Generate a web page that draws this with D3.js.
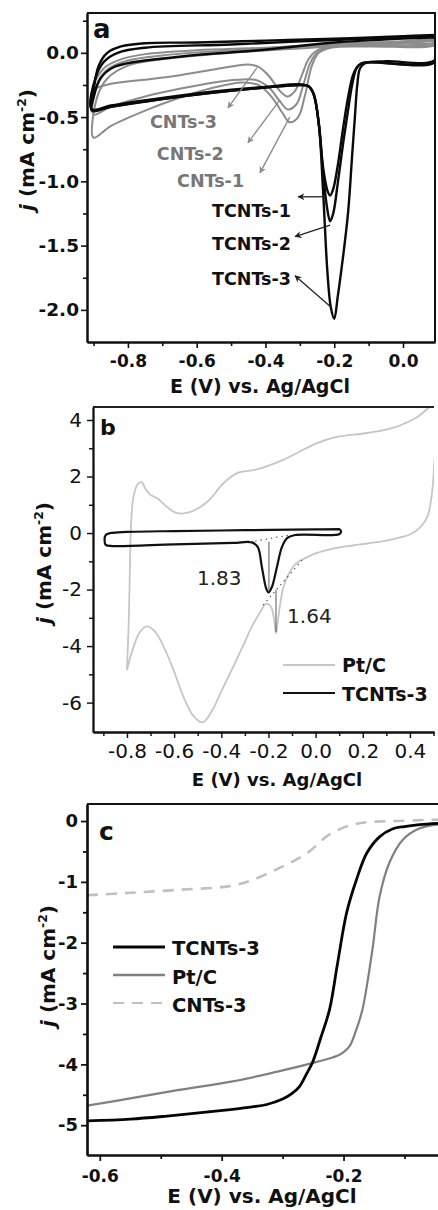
<!DOCTYPE html>
<html>
<head>
<meta charset="utf-8">
<script src="https://cdn.jsdelivr.net/npm/d3@7"></script>
<style>
  body { margin: 0; background: #fff; }
  svg { display: block; font-family: "DejaVu Sans", sans-serif; }
</style>
</head>
<body>
<svg id="fig" width="438" height="1210"></svg>
<script>
// ---------- panel a : CV of TCNTs / CNTs ----------
const aXTicks = [-0.8, -0.6, -0.4, -0.2, 0.0];
const aXMinor = [-0.9, -0.7, -0.5, -0.3, -0.1];
const aYTicks = [0.0, -0.5, -1.0, -1.5, -2.0];
const aYMinor = [0.25, -0.25, -0.75, -1.25, -1.75];

// each loop: upper branch right->left, then lower branch left->right
const tcnts3 = [[0.093,0.14],[0.0,0.13],[-0.2,0.11],[-0.4,0.095],[-0.6,0.08],[-0.75,0.075],[-0.82,0.05],[-0.86,0.0],[-0.885,-0.1],[-0.9,-0.3],[-0.905,-0.45],
  [-0.85,-0.42],[-0.7,-0.36],[-0.55,-0.31],[-0.4,-0.27],[-0.3,-0.25],[-0.275,-0.26],[-0.26,-0.32],[-0.245,-0.55],[-0.232,-1.1],[-0.22,-1.7],[-0.21,-1.98],[-0.2,-2.07],
  [-0.19,-1.9],[-0.175,-1.6],[-0.16,-1.25],[-0.148,-0.8],[-0.14,-0.5],[-0.133,-0.25],[-0.125,-0.12],[-0.11,-0.08],[-0.05,-0.065],[0.093,-0.055],[0.093,0.14]];
const tcnts2 = [[0.093,0.13],[-0.2,0.1],[-0.5,0.065],[-0.75,0.04],[-0.83,0.0],[-0.87,-0.07],[-0.895,-0.2],[-0.905,-0.44],
  [-0.85,-0.41],[-0.7,-0.35],[-0.55,-0.3],[-0.4,-0.265],[-0.3,-0.245],[-0.275,-0.26],[-0.26,-0.32],[-0.245,-0.55],[-0.232,-0.95],[-0.22,-1.22],[-0.212,-1.31],
  [-0.203,-1.25],[-0.19,-1.02],[-0.175,-0.72],[-0.16,-0.45],[-0.148,-0.25],[-0.135,-0.12],[-0.12,-0.08],[0.093,-0.07],[0.093,0.13]];
const tcnts1 = [[0.093,0.12],[-0.2,0.08],[-0.42,0.02],[-0.65,-0.03],[-0.84,-0.11],[-0.88,-0.2],[-0.9,-0.35],[-0.905,-0.44],
  [-0.85,-0.42],[-0.7,-0.36],[-0.55,-0.31],[-0.4,-0.27],[-0.3,-0.25],[-0.275,-0.26],[-0.26,-0.32],[-0.245,-0.55],[-0.232,-0.9],[-0.22,-1.07],[-0.212,-1.11],
  [-0.203,-1.06],[-0.19,-0.88],[-0.175,-0.6],[-0.16,-0.35],[-0.145,-0.17],[-0.13,-0.1],[-0.11,-0.075],[0.093,-0.065],[0.093,0.12]];
const cnts3 = [[0.093,0.11],[0.0,0.09],[-0.2,0.07],[-0.4,0.04],[-0.6,0.02],[-0.75,-0.01],[-0.82,-0.05],[-0.87,-0.12],[-0.9,-0.27],
  [-0.85,-0.24],[-0.69,-0.19],[-0.55,-0.13],[-0.45,-0.09],[-0.42,-0.11],[-0.39,-0.18],[-0.36,-0.29],[-0.337,-0.34],[-0.315,-0.3],[-0.295,-0.18],[-0.275,-0.05],
  [-0.255,0.01],[-0.23,0.04],[-0.15,0.06],[0.0,0.07],[0.093,0.08],[0.093,0.11]];
const cnts2 = [[0.093,0.1],[-0.2,0.06],[-0.5,0.02],[-0.7,-0.02],[-0.8,-0.06],[-0.86,-0.13],[-0.89,-0.25],[-0.9,-0.48],
  [-0.85,-0.42],[-0.75,-0.34],[-0.65,-0.28],[-0.55,-0.23],[-0.48,-0.21],[-0.43,-0.21],[-0.39,-0.27],[-0.36,-0.37],[-0.335,-0.44],[-0.31,-0.4],[-0.29,-0.25],
  [-0.27,-0.08],[-0.25,0.0],[-0.22,0.04],[-0.1,0.06],[0.093,0.07],[0.093,0.1]];
const cnts1 = [[0.093,0.09],[-0.2,0.05],[-0.5,0.0],[-0.7,-0.05],[-0.8,-0.1],[-0.86,-0.2],[-0.89,-0.35],[-0.9,-0.66],
  [-0.85,-0.57],[-0.75,-0.45],[-0.65,-0.35],[-0.55,-0.27],[-0.47,-0.23],[-0.42,-0.25],[-0.38,-0.35],[-0.35,-0.47],[-0.33,-0.54],[-0.305,-0.5],[-0.285,-0.33],
  [-0.265,-0.1],[-0.245,0.0],[-0.21,0.04],[-0.1,0.05],[0.093,0.06],[0.093,0.09]];

// annotations: label, text anchor point, arrow from -> to (data units)
const aLabels = [
  {name: 'CNTs-3', at: [-0.736, -0.584], from: [-0.425, -0.117], to: [-0.509, -0.428], anchor: 'start', color: '#777'},
  {name: 'CNTs-2', at: [-0.716, -0.833], from: [-0.358, -0.366], to: [-0.451, -0.70], anchor: 'start', color: '#777'},
  {name: 'CNTs-1', at: [-0.657, -1.043], from: [-0.329, -0.498], to: [-0.416, -0.934], anchor: 'start', color: '#777'},
  {name: 'TCNTs-1', at: [-0.326, -1.276], from: [-0.227, -1.12], to: [-0.305, -1.12], anchor: 'end', color: '#111'},
  {name: 'TCNTs-2', at: [-0.326, -1.533], from: [-0.212, -1.34], to: [-0.314, -1.43], anchor: 'end', color: '#111'},
  {name: 'TCNTs-3', at: [-0.326, -1.805], from: [-0.209, -1.98], to: [-0.314, -1.735], anchor: 'end', color: '#111'}
];

// ---------- panel b : Pt/C vs TCNTs-3 ----------
const bXTicks = [-0.8, -0.6, -0.4, -0.2, 0.0, 0.2, 0.4];
const bXMinor = [-0.9, -0.7, -0.5, -0.3, -0.1, 0.1, 0.3, 0.5];
const bYTicks = [4, 2, 0, -2, -4, -6];
const bYMinor = [3, 1, -1, -3, -5];

const ptcCV = [[-0.8,-4.85],[-0.792,-3.0],[-0.787,-1.0],[-0.782,0.4],[-0.772,1.3],[-0.755,1.72],[-0.738,1.8],[-0.72,1.55],[-0.7,1.35],[-0.67,1.22],[-0.63,0.92],
  [-0.59,0.71],[-0.533,0.74],[-0.46,1.1],[-0.39,1.77],[-0.333,2.12],[-0.25,2.25],[-0.14,2.58],[0.006,3.18],[0.09,3.4],[0.218,3.54],[0.328,3.72],[0.43,4.1],[0.502,4.5],
  [0.502,2.3],[0.49,1.2],[0.475,0.6],[0.443,0.2],[0.4,-0.05],[0.358,-0.15],[0.3,-0.27],[0.218,-0.37],[0.15,-0.45],[0.074,-0.55],[0.0,-0.72],[-0.037,-0.86],[-0.07,-1.0],
  [-0.096,-1.2],[-0.12,-1.55],[-0.138,-1.95],[-0.15,-2.5],[-0.16,-3.1],[-0.168,-3.55],[-0.176,-3.05],[-0.19,-2.6],[-0.21,-2.5],[-0.235,-2.8],[-0.27,-3.3],[-0.3,-3.85],
  [-0.35,-4.74],[-0.4,-5.6],[-0.44,-6.3],[-0.48,-6.7],[-0.52,-6.45],[-0.56,-5.8],[-0.6,-4.9],[-0.64,-4.1],[-0.68,-3.5],[-0.715,-3.3],[-0.745,-3.5],[-0.775,-4.1],[-0.8,-4.85]];
const tcntsCV = [[0.103,0.14],[0.0,0.13],[-0.3,0.1],[-0.6,0.07],[-0.8,0.04],[-0.87,0.0],[-0.89,-0.07],[-0.895,-0.25],[-0.89,-0.42],[-0.86,-0.46],[-0.6,-0.4],
  [-0.35,-0.35],[-0.27,-0.33],[-0.245,-0.5],[-0.228,-1.2],[-0.21,-1.95],[-0.2,-2.1],[-0.185,-1.9],[-0.164,-1.2],[-0.143,-0.5],[-0.121,-0.18],[-0.087,-0.07],
  [0.1,-0.04],[0.108,0.05],[0.103,0.14]];
const bBaselines = [[[-0.278,-0.32],[-0.109,-0.07]], [[-0.223,-2.55],[-0.058,-0.96]]];
const bDrops = [[[-0.198,-0.31],[-0.198,-2.02]], [[-0.168,-2.0],[-0.168,-3.5]]];
const bNotes = [{text: '1.83', at: [-0.503, -1.84]}, {text: '1.64', at: [-0.121, -3.19]}];
const bLegend = ['Pt/C', 'TCNTs-3'];

// ---------- panel c : LSV ----------
const cXTicks = [-0.6, -0.4, -0.2];
const cXMinor = [-0.5, -0.3, -0.1];
const cYTicks = [0, -1, -2, -3, -4, -5];
const cYMinor = [-0.5, -1.5, -2.5, -3.5, -4.5];

const tcntsLSV = [[-0.621,-4.93],[-0.55,-4.9],[-0.49,-4.85],[-0.43,-4.79],[-0.382,-4.74],[-0.35,-4.7],[-0.326,-4.66],[-0.3,-4.57],[-0.285,-4.48],[-0.272,-4.36],
  [-0.262,-4.18],[-0.251,-3.97],[-0.237,-3.55],[-0.223,-3.1],[-0.21,-2.35],[-0.195,-1.51],[-0.179,-0.97],[-0.162,-0.53],[-0.141,-0.26],[-0.12,-0.13],[-0.1,-0.09],
  [-0.075,-0.06],[-0.045,-0.04]];
const ptcLSV = [[-0.621,-4.68],[-0.55,-4.56],[-0.47,-4.42],[-0.382,-4.28],[-0.3,-4.1],[-0.244,-3.96],[-0.21,-3.86],[-0.2,-3.8],[-0.19,-3.7],[-0.179,-3.43],
  [-0.169,-3.1],[-0.16,-2.6],[-0.152,-2.07],[-0.141,-1.25],[-0.125,-0.69],[-0.103,-0.31],[-0.075,-0.12],[-0.054,-0.07],[-0.045,-0.06]];
const cntsLSV = [[-0.621,-1.22],[-0.55,-1.18],[-0.47,-1.13],[-0.387,-1.07],[-0.35,-0.97],[-0.305,-0.77],[-0.26,-0.53],[-0.223,-0.22],[-0.185,-0.06],
  [-0.15,-0.01],[-0.113,0.0],[-0.054,0.02],[-0.045,0.02]];
const cLegend = ['TCNTs-3', 'Pt/C', 'CNTs-3'];

// ---------- drawing ----------
const svg = d3.select('#fig');
const FONT = '"DejaVu Sans", sans-serif';

const defs = svg.append('defs');
[['arrGray', '#8a8a8a'], ['arrBlack', '#222']].forEach(([id, c]) => {
  defs.append('marker').attr('id', id).attr('viewBox', '0 0 10 10')
    .attr('refX', 9).attr('refY', 5).attr('markerWidth', 7).attr('markerHeight', 7)
    .attr('markerUnits', 'userSpaceOnUse').attr('orient', 'auto')
    .append('path').attr('d', 'M0,0 L10,5 L0,10 L3,5 z').attr('fill', c);
});

function drawAxes(g, x, y, o) {
  const bottom = y.range()[0], left = x.range()[0];
  const fmtX = d => d.toFixed(1);
  const xg = g.append('g').attr('transform', `translate(0,${bottom})`);
  xg.call(d3.axisBottom(x).tickValues(o.xMinor).tickSize(o.minorLen).tickSizeOuter(0).tickFormat(''));
  xg.append('g').call(d3.axisBottom(x).tickValues(o.xTicks).tickSize(o.majorLen).tickSizeOuter(0).tickFormat(fmtX));
  const yg = g.append('g').attr('transform', `translate(${left},0)`);
  yg.call(d3.axisLeft(y).tickValues(o.yMinor).tickSize(o.minorLen).tickSizeOuter(0).tickFormat(''));
  yg.append('g').call(d3.axisLeft(y).tickValues(o.yTicks).tickSize(o.majorLen).tickSizeOuter(0).tickFormat(o.fmtY));
  g.selectAll('.domain').attr('stroke', '#111').attr('stroke-width', o.lw);
  g.selectAll('.tick line').attr('stroke', '#111').attr('stroke-width', o.lw * 0.8);
  xg.selectAll('text').attr('font-family', FONT).attr('font-size', o.xFont).attr('font-weight', o.weight)
    .attr('fill', '#111').attr('dy', null).attr('y', o.xLabelY - bottom).attr('dominant-baseline', 'auto');
  yg.selectAll('text').attr('font-family', FONT).attr('font-size', o.yFont).attr('font-weight', o.weight)
    .attr('fill', '#111').attr('x', o.yLabelX - left);
}

function yTitle(g, xPos, yPos, size, weight) {
  const t = g.append('text').attr('transform', `translate(${xPos},${yPos}) rotate(-90)`)
    .attr('text-anchor', 'middle').attr('font-family', FONT).attr('font-size', size)
    .attr('font-weight', weight).attr('fill', '#111');
  t.append('tspan').attr('font-style', 'italic').text('j');
  t.append('tspan').text(' (mA cm');
  t.append('tspan').attr('font-size', size * 0.62).attr('dy', -size * 0.4).text('-2');
  t.append('tspan').attr('dy', size * 0.4).text(')');
}

function xTitle(g, xPos, yPos, size, weight) {
  g.append('text').attr('x', xPos).attr('y', yPos).attr('text-anchor', 'middle')
    .attr('font-family', FONT).attr('font-size', size).attr('font-weight', weight)
    .attr('fill', '#111').text('E (V) vs. Ag/AgCl');
}

function clip(id, x, y) {
  defs.append('clipPath').attr('id', id).append('rect')
    .attr('x', x.range()[0]).attr('y', y.range()[1])
    .attr('width', x.range()[1] - x.range()[0]).attr('height', y.range()[0] - y.range()[1]);
  return `url(#${id})`;
}

const mkLine = (x, y) => d3.line().x(d => x(d[0])).y(d => y(d[1])).curve(d3.curveCatmullRom.alpha(0.5));

// ----- panel a -----
{
  const x = d3.scaleLinear().domain([-0.919, 0.093]).range([87, 435]);
  const y = d3.scaleLinear().domain([-2.25, 0.31]).range([342, 13]);
  const g = svg.append('g');
  const line = mkLine(x, y);
  const plot = g.append('g').attr('clip-path', clip('clipA', x, y));
  [cnts1, cnts2, cnts3].forEach(d => plot.append('path').datum(d).attr('d', line)
    .attr('fill', 'none').attr('stroke', '#8c8c8c').attr('stroke-width', 2));
  [tcnts1, tcnts2, tcnts3].forEach(d => plot.append('path').datum(d).attr('d', line)
    .attr('fill', 'none').attr('stroke', '#0a0a0a').attr('stroke-width', 2.4));
  aLabels.forEach(l => {
    g.append('line').attr('x1', x(l.from[0])).attr('y1', y(l.from[1]))
      .attr('x2', x(l.to[0])).attr('y2', y(l.to[1]))
      .attr('stroke', l.anchor === 'start' ? '#8a8a8a' : '#222').attr('stroke-width', 1.3)
      .attr('marker-end', l.anchor === 'start' ? 'url(#arrGray)' : 'url(#arrBlack)');
    g.append('text').attr('x', x(l.at[0])).attr('y', y(l.at[1])).attr('text-anchor', l.anchor)
      .attr('font-family', FONT).attr('font-size', 17.5).attr('font-weight', 'bold')
      .attr('fill', l.color).text(l.name);
  });
  // frame
  g.append('path').attr('d', `M${x.range()[0]},${y.range()[1]}H${x.range()[1]}V${y.range()[0]}`)
    .attr('fill', 'none').attr('stroke', '#111').attr('stroke-width', 2);
  drawAxes(g, x, y, {xTicks: aXTicks, xMinor: aXMinor, yTicks: aYTicks, yMinor: aYMinor,
    majorLen: 6, minorLen: 4, lw: 2, xFont: 17, yFont: 18.5, weight: 'bold',
    xLabelY: 367, yLabelX: 79, fmtY: d => d.toFixed(1)});
  g.append('text').attr('x', 93).attr('y', 38).attr('font-family', FONT).attr('font-size', 26)
    .attr('font-weight', 'bold').attr('fill', '#111').text('a');
  yTitle(g, 34, 150, 20, 'bold');
  xTitle(g, 260, 393, 19, 'bold');
}

// ----- panel b -----
{
  const x = d3.scaleLinear().domain([-0.944, 0.502]).range([93, 434]);
  const y = d3.scaleLinear().domain([-7.04, 4.46]).range([732, 407]);
  const g = svg.append('g');
  const line = mkLine(x, y);
  const plot = g.append('g').attr('clip-path', clip('clipB', x, y));
  plot.append('path').datum(ptcCV).attr('d', line).attr('fill', 'none')
    .attr('stroke', '#c6c6c6').attr('stroke-width', 1.8);
  plot.append('path').datum(tcntsCV).attr('d', line).attr('fill', 'none')
    .attr('stroke', '#111').attr('stroke-width', 2.2);
  bBaselines.forEach(b => plot.append('line').attr('x1', x(b[0][0])).attr('y1', y(b[0][1]))
    .attr('x2', x(b[1][0])).attr('y2', y(b[1][1])).attr('stroke', '#555')
    .attr('stroke-width', 1.3).attr('stroke-dasharray', '1.3,4'));
  bDrops.forEach(b => plot.append('line').attr('x1', x(b[0][0])).attr('y1', y(b[0][1]))
    .attr('x2', x(b[1][0])).attr('y2', y(b[1][1])).attr('stroke', '#444').attr('stroke-width', 0.9));
  bNotes.forEach(n => g.append('text').attr('x', x(n.at[0])).attr('y', y(n.at[1]))
    .attr('font-family', FONT).attr('font-size', 20).attr('fill', '#222').text(n.text));
  g.append('path').attr('d', `M${x.range()[0]},${y.range()[1]}H${x.range()[1]}`)
    .attr('fill', 'none').attr('stroke', '#222').attr('stroke-width', 1.8);
  drawAxes(g, x, y, {xTicks: bXTicks, xMinor: bXMinor, yTicks: bYTicks, yMinor: bYMinor,
    majorLen: 6, minorLen: 4, lw: 1.8, xFont: 20, yFont: 20, weight: 'normal',
    xLabelY: 758, yLabelX: 82, fmtY: d => String(d)});
  // legend
  const lg = g.append('g');
  bLegend.forEach((name, i) => {
    lg.append('line').attr('x1', 283).attr('x2', 335).attr('y1', 665 + i * 28).attr('y2', 665 + i * 28)
      .attr('stroke', i === 0 ? '#c6c6c6' : '#111').attr('stroke-width', 2);
    lg.append('text').attr('x', 342).attr('y', 672 + i * 29).attr('font-family', FONT)
      .attr('font-size', 19).attr('font-weight', 'bold').attr('fill', '#111').text(name);
  });
  g.append('text').attr('x', 100).attr('y', 435).attr('font-family', FONT).attr('font-size', 22)
    .attr('font-weight', 'bold').attr('fill', '#111').text('b');
  yTitle(g, 51, 563, 20, 'bold');
  xTitle(g, 277, 786, 18, 'bold');
}

// ----- panel c -----
{
  const x = d3.scaleLinear().domain([-0.621, -0.045]).range([87, 438]);
  const y = d3.scaleLinear().domain([-5.49, 0.28]).range([1155, 804]);
  const g = svg.append('g');
  const line = mkLine(x, y);
  const plot = g.append('g').attr('clip-path', clip('clipC', x, y));
  plot.append('path').datum(cntsLSV).attr('d', line).attr('fill', 'none')
    .attr('stroke', '#c0c0c0').attr('stroke-width', 2.6).attr('stroke-dasharray', '11,8');
  plot.append('path').datum(ptcLSV).attr('d', line).attr('fill', 'none')
    .attr('stroke', '#808080').attr('stroke-width', 2.2);
  plot.append('path').datum(tcntsLSV).attr('d', line).attr('fill', 'none')
    .attr('stroke', '#050505').attr('stroke-width', 2.8);
  g.append('path').attr('d', `M${x.range()[0]},${y.range()[1]}H${x.range()[1]}`)
    .attr('fill', 'none').attr('stroke', '#111').attr('stroke-width', 2.2);
  drawAxes(g, x, y, {xTicks: cXTicks, xMinor: cXMinor, yTicks: cYTicks, yMinor: cYMinor,
    majorLen: 6, minorLen: 4, lw: 2.2, xFont: 17, yFont: 18, weight: 'bold',
    xLabelY: 1182, yLabelX: 78, fmtY: d => String(d)});
  const styles = [{c: '#050505', w: 2.8, dash: null}, {c: '#808080', w: 2.6, dash: null}, {c: '#c0c0c0', w: 2.2, dash: '11,8'}];
  cLegend.forEach((name, i) => {
    g.append('line').attr('x1', 113).attr('x2', 165).attr('y1', 947 + i * 28).attr('y2', 947 + i * 28)
      .attr('stroke', styles[i].c).attr('stroke-width', styles[i].w).attr('stroke-dasharray', styles[i].dash);
    g.append('text').attr('x', 172).attr('y', 955 + i * 28.5).attr('font-family', FONT)
      .attr('font-size', 19.5).attr('font-weight', 'bold').attr('fill', '#111').text(name);
  });
  g.append('text').attr('x', 99).attr('y', 840).attr('font-family', FONT).attr('font-size', 25)
    .attr('font-weight', 'bold').attr('fill', '#111').text('c');
  yTitle(g, 55, 966, 20, 'bold');
  xTitle(g, 262, 1203, 20, 'bold');
}
</script>
</body>
</html>
